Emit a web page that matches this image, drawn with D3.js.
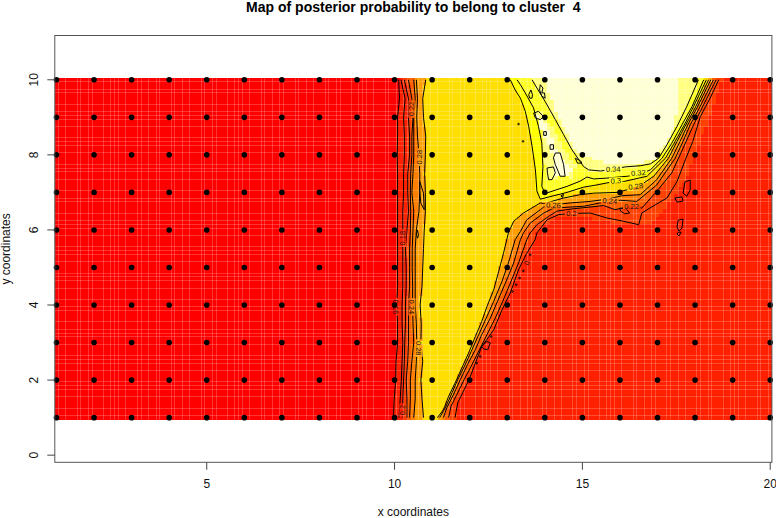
<!DOCTYPE html>
<html><head><meta charset="utf-8">
<script src="https://cdn.jsdelivr.net/npm/d3@7"></script>
<style>html,body{margin:0;padding:0;background:#fff}svg{display:block}text{font-family:"Liberation Sans",Arial,sans-serif}</style>
</head><body><div id="chart"></div><script>
const title = "Map of posterior probability to belong to cluster\u00a0\u00a04";
const xLabel = "x coordinates", yLabel = "y coordinates";
const xTicks = [5,10,15,20], yTicks = [0,2,4,6,8,10];
const gridX = d3.range(1,21), gridY = d3.range(1,11);
const palette = ["#FF0000","#FF2000","#FF4000","#FF6000","#FF8000","#FF9F00","#FFBF00","#FFDF00","#FFFF00","#FFFF2A","#FFFF80","#FFFFD5"];

// left band: x of each contour at these y values
const leftY = [10,9.5,9,8.5,8,7.5,7,6.5,6,5.5,5,4.5,4,3.5,3,2.5,2,1.5,1];
const left16 = [10.11,10.13,10.08,10.08,10.07,10.08,10.08,10.08,10.08,10.08,10.08,10.08,10.06,10.08,10.08,10.04,10.03,9.99,9.97];
const left18 = [10.17,10.28,10.24,10.26,10.26,10.24,10.24,10.22,10.22,10.22,10.22,10.22,10.2,10.2,10.22,10.2,10.18,10.15,10.12];
const left20 = [10.26,10.37,10.37,10.4,10.4,10.35,10.35,10.37,10.33,10.29,10.31,10.31,10.29,10.29,10.27,10.26,10.24,10.22,10.21];
const left22 = [10.37,10.46,10.49,10.46,10.46,10.43,10.42,10.43,10.42,10.4,10.4,10.4,10.37,10.37,10.37,10.35,10.31,10.33,10.33];
const left24 = [10.51,10.55,10.51,10.51,10.51,10.49,10.46,10.51,10.49,10.47,10.47,10.48,10.48,10.49,10.51,10.46,10.42,10.42,10.4];
const left26 = [10.58,10.61,10.59,10.61,10.65,10.67,10.67,10.65,10.58,10.55,10.55,10.55,10.55,10.58,10.59,10.58,10.55,10.55,10.51];
const left28 = [10.83,10.75,10.77,10.83,10.82,10.8,10.82,10.82,10.79,10.77,10.75,10.73,10.68,10.71,10.7,10.75,10.7,10.73,10.77];

// right band and V shaped contours, from bottom/left to top
const right20 = [[11.61,1],[11.68,1.39],[11.85,1.74],[12,2.05],[12.15,2.45],[12.32,2.89],[12.64,3.34],[12.86,3.87],[13.08,4.32],[13.3,4.94],[13.52,5.38],[13.74,5.74],[13.79,5.92],[14.06,6.27],[14.37,6.41],[14.72,6.44],[15.21,6.45],[15.65,6.32],[16.1,6.23],[16.5,6.14],[16.58,6.45],[16.94,6.67],[17.25,6.85],[17.52,7.29],[17.74,7.87],[17.94,8.36],[18.14,9.02],[18.4,9.51],[18.63,10]];
const right22 = [[11.44,1],[11.5,1.3],[11.68,1.66],[11.85,2.01],[12.06,2.41],[12.26,2.81],[12.46,3.21],[12.68,3.65],[12.88,4.1],[13.1,4.63],[13.3,5.12],[13.52,5.74],[13.61,5.92],[13.79,6.14],[14.1,6.36],[14.32,6.5],[14.72,6.56],[15.21,6.61],[15.56,6.65],[15.87,6.54],[16.32,6.65],[16.58,6.58],[16.98,7.03],[17.38,7.52],[17.6,8],[17.78,8.4],[17.96,8.8],[18.14,9.16],[18.56,10]];
const right24 = [[11.3,1],[11.39,1.26],[11.59,1.66],[11.75,2.01],[11.94,2.41],[12.15,2.81],[12.32,3.21],[12.55,3.65],[12.74,4.1],[12.97,4.63],[13.17,5.12],[13.35,5.74],[13.43,5.92],[13.61,6.18],[13.97,6.45],[14.23,6.58],[14.68,6.61],[15.03,6.63],[15.48,6.72],[16.01,6.79],[16.45,6.76],[16.98,7.2],[17.47,7.91],[17.68,8.36],[17.87,8.8],[18.09,9.2],[18.49,10]];
const right26 = [[11.2,1],[11.35,1.26],[11.53,1.66],[11.68,2.01],[11.88,2.41],[12.06,2.81],[12.24,3.21],[12.44,3.65],[12.64,4.1],[12.86,4.63],[13.03,5.12],[13.21,5.74],[13.35,5.96],[13.52,6.27],[13.88,6.54],[13.97,6.61],[14.23,6.67],[14.68,6.72],[15.21,6.76],[15.65,6.82],[16.05,6.91],[16.54,6.94],[16.98,7.34],[17.38,7.91],[17.6,8.36],[17.83,8.85],[18.05,9.25],[18.42,10]];
const right28 = [[11.14,1],[11.3,1.21],[11.44,1.57],[11.61,1.92],[11.79,2.32],[11.97,2.72],[12.15,3.16],[12.32,3.56],[12.46,3.96],[12.64,4.41],[12.77,4.89],[12.9,5.38],[13.03,5.92],[13.17,6.23],[13.43,6.45],[13.88,6.72],[13.97,6.7],[14.5,6.85],[14.94,6.94],[15.3,6.98],[15.92,7],[16.27,7.09],[16.5,7.16],[16.9,7.43],[17.29,7.91],[17.52,8.36],[17.78,8.85],[18,9.25],[18.36,10]];
const v30 = [[13.08,10],[13.21,9.73],[13.35,9.51],[13.48,9.16],[13.57,8.76],[13.66,8.23],[13.75,7.6],[13.79,7.03],[13.88,6.82],[14.23,6.91],[14.59,7],[15.03,7.14],[15.39,7.2],[15.74,7.27],[16.1,7.29],[16.72,7.43],[17.21,7.91],[17.47,8.36],[17.74,8.85],[17.96,9.29],[18.3,10]];
const v32 = [[13.26,10],[13.35,9.87],[13.48,9.65],[13.7,9.25],[13.83,8.76],[13.92,8.31],[13.95,7.69],[13.92,7.16],[14.01,6.97],[14.28,7.06],[14.59,7.16],[14.94,7.3],[15.12,7.41],[15.3,7.36],[15.65,7.38],[16.19,7.43],[16.5,7.47],[16.81,7.6],[17.12,7.91],[17.38,8.31],[17.65,8.8],[17.92,9.29],[18.23,10]];
const v34 = [[13.66,10],[13.79,9.78],[14.01,9.42],[14.28,8.94],[14.5,8.54],[14.72,8.14],[15.03,7.69],[15.17,7.6],[15.48,7.57],[15.7,7.6],[16.14,7.68],[16.54,7.71],[16.81,7.76],[17.03,7.91],[17.25,8.27],[17.52,8.76],[17.78,9.29],[18.09,10]];

// extra colour patches
const palest = [[14.01,10],[14.14,9.56],[14.41,8.94],[14.81,8.14],[15.03,7.96],[15.56,7.78],[16.36,7.74],[16.9,7.87],[17.34,8.49],[17.52,9.11],[17.52,10]];
const arm = [[13.7,9.2],[13.97,9.11],[14.32,8.49],[14.81,7.69],[14.76,7.38],[14.5,7.43],[14.23,7.38],[14.05,7.34],[14,7.8],[13.95,8.5]];
const armCore = [[13.79,9.02],[14.01,8.85],[14.32,8.14],[14.72,7.6],[14.59,7.42],[14.28,7.47],[14.23,7.96],[13.97,8.49]];
const halo = [[18.71,10],[18.49,9.29],[18.23,8.58],[17.96,7.91],[17.74,7.34],[17.43,6.85],[17.07,6.45],[16.72,6.1],[15.8,6.2],[15,6.35],[14.3,6.3],[14,6.1],[14.2,6.8],[16,7],[17,8],[18,10]];

// small closed contours
const blobs = [
 [[13.57,9.6],[13.63,9.73],[13.67,9.6],[13.66,9.51],[13.6,9.51]],
 [[13.88,9.87],[13.95,9.78],[13.92,9.65],[13.99,9.65],[14.01,9.51],[13.92,9.56],[13.86,9.73]],
 [[13.7,9.11],[13.83,9.16],[13.97,9.02],[13.88,8.94],[13.75,8.98]],
 [[13.97,8.62],[14.04,8.62],[14.04,8.52],[13.97,8.52]],
 [[14.14,8.27],[14.23,8.27],[14.23,8.15],[14.14,8.15]],
 [[14.28,8.05],[14.41,8.05],[14.5,7.74],[14.54,7.43],[14.41,7.43],[14.28,7.74],[14.23,7.92]],
 [[14.06,7.65],[14.23,7.68],[14.28,7.52],[14.19,7.34],[14.1,7.34],[14.07,7.52]],
 [[14.81,7.91],[14.94,7.85],[14.99,7.78],[14.87,7.78]],
 [[14.43,6.91],[14.5,6.95],[14.47,6.86]],
 [[15.99,6.58],[16.17,6.56],[16.26,6.45],[16.13,6.43],[16.02,6.5]],
 [[17.68,6.98],[17.73,7.28],[17.87,7.33],[17.87,7.06],[17.78,6.9]],
 [[17.46,6.85],[17.65,6.88],[17.68,6.77],[17.52,6.74]],
 [[17.55,6.26],[17.68,6.29],[17.65,6.05],[17.57,5.97],[17.52,6.08]],
 [[17.55,5.94],[17.63,5.94],[17.57,5.84],[17.52,5.89]],
 [[12.32,2.9],[12.46,3.03],[12.55,2.99],[12.48,2.81],[12.37,2.83]],
 [[10.67,7.29],[10.77,6.98],[10.79,6.54],[10.7,6.71],[10.67,7.03]],
 [[10.61,6],[10.64,5.85],[10.61,5.78],[10.58,5.9]]
];
const specks = [[13.61,5.34],[13.43,4.91],[13.33,4.72],[13.24,4.54],[13.14,4.36],[12.57,3.16],[12.28,2.63],[12.19,2.45],[13.3,8.82],[13.42,8.36]];

// contour labels: text, x, y, angle
const lineLabels = [
 ["0.34",15.82,7.62,-2],["0.32",16.49,7.52,-4],["0.3",15.89,7.31,-3],["0.28",16.42,7.16,-8],
 ["0.26",14.23,6.66,3],["0.24",15.73,6.77,5],["0.22",16.31,6.64,0],["0.2",14.71,6.43,0],
 ["0.18",10.22,5.78,-90],["0.22",10.46,9.22,-90],["0.28",10.65,7.94,-90],
 ["0.16",10.03,3.95,90],["0.24",10.46,3.95,90],["0.28",10.65,2.85,90],["0.2",10.22,1.2,-90],["0",13.52,5.12,-70]
];
// pale raster seams in the image: gaps between them, in cells
const seamStepX = [2,3,1,2,1,3,2,1,1,2,3,1,2,2,1,3,1,2];
const seamStepY = [2,3,2,1,1,3,2,1,1,3,2,1,1,2,3,1];

const W=776,H=518, L=54.8,R=771.9,T=35.5,B=462.3;
const x=d3.scaleLinear().domain([0.955,20.045]).range([L,R]);
const y=d3.scaleLinear().domain([-0.19,11.18]).range([B,T]);
const svg=d3.select("#chart").append("svg").attr("width",W).attr("height",H).attr("viewBox",`0 0 ${W} ${H}`);

const toPts=xs=>xs.map((v,i)=>[v,leftY[i]]);
const bandPoly=(lx,rp)=>toPts(lx).concat(rp);
// nested regions, painted in order: [polygon, palette index]
const regions=[
 [toPts(left16).concat([[21,0.5],[21,10.5]]),1],
 [halo,2],
 [bandPoly(left20,right20),2],
 [bandPoly(left22,right22),3],
 [bandPoly(left24,right24),4],
 [bandPoly(left26,right26),5],
 [bandPoly(left28,right28),7],
 [v30,8],[v32,9],[v34,10],[arm,10],[palest,11],[armCore,11]
];
const cellX=d3.range(1,20.001,0.1).map(v=>+v.toFixed(1));
const cellY=d3.range(1,10.001,0.1).map(v=>+v.toFixed(1));
const cells=[];
cellY.forEach(cy=>cellX.forEach(cx=>{
  const p=[cx,cy>=10?9.99:cy<=1?1.01:cy];
  let k=0;
  regions.forEach(r=>{if(d3.polygonContains(r[0],p))k=r[1];});
  cells.push({cx,cy,k});
}));
svg.append("g").attr("shape-rendering","crispEdges").selectAll("rect").data(cells).join("rect")
 .attr("x",d=>x(d.cx-0.05)).attr("y",d=>y(d.cy+0.05))
 .attr("width",d=>x(d.cx+0.05)-x(d.cx-0.05)).attr("height",d=>y(d.cy-0.05)-y(d.cy+0.05))
 .attr("fill",d=>palette[d.k]);

// seams
const walk=(steps,vals)=>{const out=[];let i=0,s=0;while(i<vals.length){out.push(vals[i]);i+=steps[s%steps.length];s++;}return out;};
const seamsX=walk(seamStepX,cellX), seamsY=walk(seamStepY,cellY);
const sg=svg.append("g").attr("stroke","#fff").attr("stroke-opacity",0.2).attr("stroke-width",1).attr("shape-rendering","crispEdges");
sg.selectAll("line.sx").data(seamsX).join("line").attr("class","sx")
 .attr("x1",d=>x(d+0.05)).attr("x2",d=>x(d+0.05)).attr("y1",y(10.05)).attr("y2",y(0.95));
sg.selectAll("line.sy").data(seamsY).join("line").attr("class","sy")
 .attr("y1",d=>y(d+0.05)).attr("y2",d=>y(d+0.05)).attr("x1",x(0.95)).attr("x2",x(20.05));

// gaps in contour lines under labels
const defs=svg.append("defs");
const mask=defs.append("mask").attr("id","gaps").attr("maskUnits","userSpaceOnUse").attr("x",0).attr("y",0).attr("width",W).attr("height",H);
mask.append("rect").attr("width",W).attr("height",H).attr("fill","#fff");
mask.selectAll("rect.g").data(lineLabels).join("rect").attr("class","g")
 .attr("x",d=>-d[0].length*2.2).attr("y",-3.5).attr("width",d=>d[0].length*4.4).attr("height",7).attr("fill","#000")
 .attr("transform",d=>`translate(${x(d[1])},${y(d[2])}) rotate(${d[3]})`);

const line=d3.line().x(d=>x(d[0])).y(d=>y(d[1]));
const lines=[left16,left18,left20,left22,left24,left26,left28].map(toPts)
 .concat([right20,right22,right24,right26,right28,v30,v32,v34]);
const cg=svg.append("g").attr("mask","url(#gaps)").attr("fill","none").attr("stroke","#000").attr("stroke-width",1);
cg.selectAll("path.l").data(lines).join("path").attr("class","l").attr("d",line);
cg.selectAll("path.b").data(blobs).join("path").attr("class","b").attr("d",d=>line(d)+"Z");
cg.selectAll("circle").data(specks).join("circle").attr("cx",d=>x(d[0])).attr("cy",d=>y(d[1])).attr("r",0.8);

svg.append("g").selectAll("text").data(lineLabels).join("text")
 .attr("transform",d=>`translate(${x(d[1])},${y(d[2])}) rotate(${d[3]})`)
 .attr("text-anchor","middle").attr("dy","0.35em").attr("font-size",7.5).attr("fill","#111").text(d=>d[0]);

svg.append("g").selectAll("circle").data(d3.cross(gridX,gridY)).join("circle")
 .attr("cx",d=>x(d[0])).attr("cy",d=>y(d[1])).attr("r",2.8).attr("fill","#000");

svg.append("rect").attr("x",L).attr("y",T).attr("width",R-L).attr("height",B-T).attr("fill","none").attr("stroke","#555").attr("stroke-width",1);
const ax=svg.append("g").attr("stroke","#444");
ax.selectAll("line.x").data(xTicks).join("line").attr("class","x").attr("x1",d=>x(d)).attr("x2",d=>x(d)).attr("y1",B).attr("y2",B+7.5);
ax.selectAll("line.y").data(yTicks).join("line").attr("class","y").attr("y1",d=>y(d)).attr("y2",d=>y(d)).attr("x1",L).attr("x2",L-7.5);
const fs=12;
svg.append("g").selectAll("text").data(xTicks).join("text").attr("x",d=>x(d)).attr("y",488).attr("text-anchor","middle").attr("font-size",fs).attr("fill","#111").text(d=>d);
svg.append("g").selectAll("text").data(yTicks).join("text").attr("transform",d=>`translate(38,${y(d)}) rotate(-90)`).attr("text-anchor","middle").attr("font-size",fs).attr("fill","#111").text(d=>d);
svg.append("text").attr("x",(L+R)/2).attr("y",11.5).attr("text-anchor","middle").attr("font-size",14).attr("font-weight","bold").attr("fill","#000").text(title);
svg.append("text").attr("x",(L+R)/2).attr("y",516).attr("text-anchor","middle").attr("font-size",fs).attr("fill","#111").text(xLabel);
svg.append("text").attr("transform",`translate(10,${(T+B)/2}) rotate(-90)`).attr("text-anchor","middle").attr("font-size",fs).attr("fill","#111").text(yLabel);
</script></body></html>
